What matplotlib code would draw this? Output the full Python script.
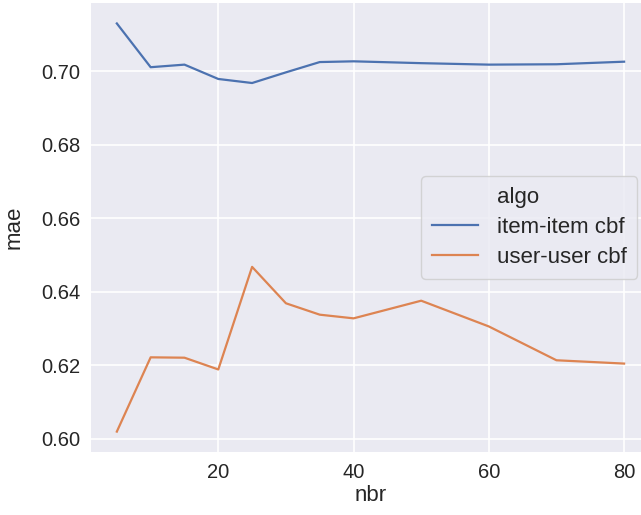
import matplotlib
matplotlib.use("Agg")
import matplotlib.pyplot as plt
from matplotlib.lines import Line2D

# neighbourhood size vs mean absolute error
nbr = [5, 10, 15, 20, 25, 30, 35, 40, 50, 60, 70, 80]
mae_item = [0.7130, 0.7011, 0.7018, 0.6979, 0.6968, 0.6997, 0.7025, 0.7027, 0.7022, 0.7018, 0.7019, 0.7026]
mae_user = [0.6020, 0.6222, 0.6221, 0.6189, 0.6468, 0.6369, 0.6338, 0.6328, 0.6376, 0.6306, 0.6214, 0.6205]
algos = ["item-item cbf", "user-user cbf"]
yticks = [0.60, 0.62, 0.64, 0.66, 0.68, 0.70]
xticks = [20, 40, 60, 80]

plt.rcParams["font.family"] = ["Liberation Sans", "DejaVu Sans"]

fig = plt.figure(figsize=(6.41, 5.15), dpi=100)
# axes runs off the right/top edge like the cropped original
ax = fig.add_axes([0.1427, 0.1223, 0.8705, 0.8718])
ax.set_facecolor("#EAEAF2")
for s in ax.spines.values():
    s.set_visible(False)
ax.grid(True, color="white", linewidth=1.2)
ax.set_axisbelow(True)

ax.plot(nbr, mae_item, color="#4C72B0", lw=1.6, label=algos[0])
ax.plot(nbr, mae_user, color="#DD8452", lw=1.6, label=algos[1])

ax.set_xticks(xticks)
ax.set_yticks(yticks)
ax.set_yticklabels([f"{v:.2f}" for v in yticks])
ax.tick_params(length=0, labelsize=14.5, colors="#262626", pad=8)
ax.set_xlabel("nbr", fontsize=16, color="#262626", labelpad=2)
ax.set_ylabel("mae", fontsize=16, color="#262626", labelpad=12)

blank = Line2D([], [], color="none")
handles = [blank] + ax.get_lines()
labels = ["algo"] + algos
leg = ax.legend(handles, labels, loc="center right", fontsize=16,
                frameon=True, fancybox=True, framealpha=0.8,
                edgecolor="#CCCCCC", facecolor="#EAEAF2",
                handlelength=2.07, handletextpad=0.85, labelspacing=0.4,
                borderpad=0.48, borderaxespad=0.55)
for t in leg.get_texts():
    t.set_color("#262626")

fig.savefig("out.png", dpi=100)
